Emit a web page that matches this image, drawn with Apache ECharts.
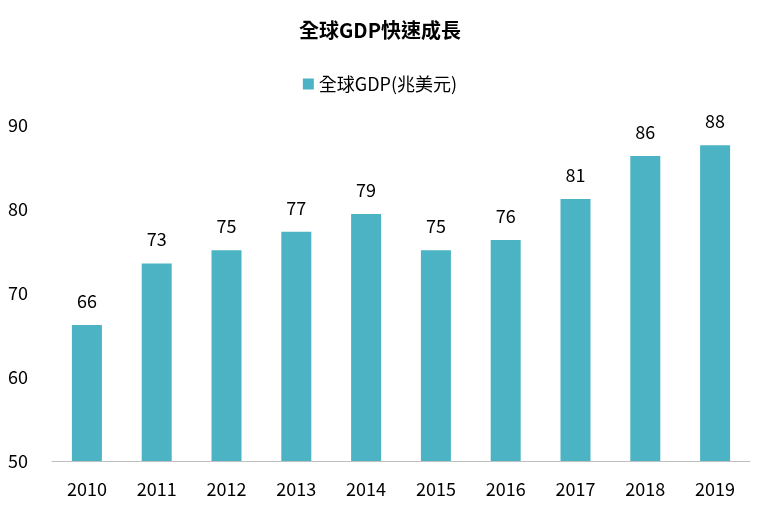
<!DOCTYPE html>
<html><head><meta charset="utf-8">
<script src="https://cdn.jsdelivr.net/npm/echarts@6/dist/echarts.min.js"></script>
<style>html,body{margin:0;padding:0;background:#fff}#c{width:760px;height:509px}</style>
</head><body><div id="c"></div>
<script>
const categories = ['2010','2011','2012','2013','2014','2015','2016','2017','2018','2019'];
const gdpValues = [66.2, 73.5, 75.1, 77.3, 79.4, 75.1, 76.3, 81.2, 86.3, 87.6];
const gdpLabels = [66, 73, 75, 77, 79, 75, 76, 81, 86, 88];
const chart = echarts.init(document.getElementById('c'));
const font = '"Noto Sans CJK TC", "Noto Sans", sans-serif';
chart.setOption({
  animation: false,
  title: { text: '全球GDP快速成長', left: 'center', top: 15, textStyle: { fontFamily: font, fontSize: 20, fontWeight: 'bold', color: '#000' } },
  legend: { top: 70, left: 'center', icon: 'rect', itemWidth: 11, itemHeight: 11, itemGap: 6,
    textStyle: { fontFamily: font, fontSize: 18, color: '#000' }, data: ['全球GDP(兆美元)'] },
  grid: { left: 52, right: 10, top: 125, bottom: 48 },
  xAxis: { type: 'category', data: categories, axisTick: { show: false },
    axisLine: { lineStyle: { color: '#bfbfbf' } },
    axisLabel: { fontFamily: font, fontSize: 18, color: '#000', margin: 19 } },
  yAxis: { type: 'value', min: 50, max: 90, interval: 10, splitLine: { show: false },
    axisLine: { show: false }, axisTick: { show: false },
    axisLabel: { fontFamily: font, fontSize: 18, color: '#000', align: 'left', margin: 44 } },
  series: [{ name: '全球GDP(兆美元)', type: 'bar', barWidth: 30, data: gdpValues,
    itemStyle: { color: '#4bb3c4' },
    label: { show: true, position: 'top', distance: 15, fontFamily: font, fontSize: 18, color: '#000',
      formatter: p => gdpLabels[p.dataIndex] } }]
});
</script></body></html>
